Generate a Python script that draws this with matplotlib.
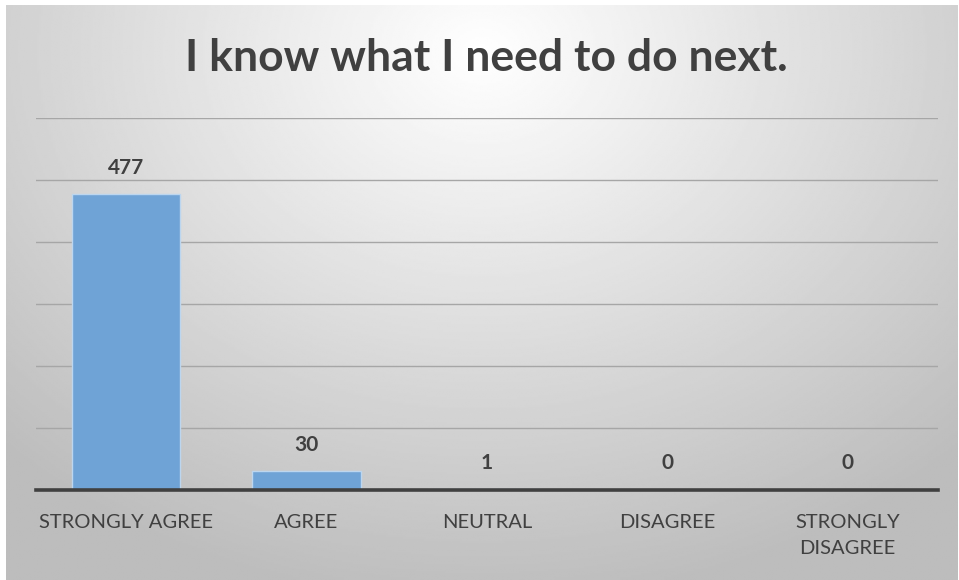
import numpy as np
import matplotlib
matplotlib.use("Agg")
import matplotlib.pyplot as plt

categories = ["STRONGLY AGREE", "AGREE", "NEUTRAL", "DISAGREE", "STRONGLY\nDISAGREE"]
counts = [477, 30, 1, 0, 0]
title = "I know what I need to do next."

plt.rcParams['font.family'] = ['Lato', 'DejaVu Sans']

W, H = 959, 580
fig = plt.figure(figsize=(W / 100, H / 100), dpi=100)

# background: radial gradient, light at the top centre
bg = fig.add_axes([6 / W, 0, 1 - 7 / W, 1 - 5 / H])
bg.set_axis_off()
gy, gx = np.mgrid[0:1:300j, 0:1:500j]
r = np.sqrt(((gx - 0.5) / 0.75) ** 2 + ((gy - 0.08) / 1.0) ** 2)
shade = np.clip(1.0 - 0.27 * r, 0.74, 1.0)
bg.imshow(shade, cmap="gray", vmin=0, vmax=1, aspect="auto",
          extent=[0, 1, 1, 0], interpolation="bilinear")

ax = fig.add_axes([36 / W, 1 - 490 / H, (937.5 - 36) / W, (490 - 118) / H])
ax.patch.set_alpha(0)
x = np.arange(len(categories))
ax.bar(x, counts, width=0.6, color="#6fa3d6", edgecolor="#bcd6ef", linewidth=1, zorder=3)
ax.set_xlim(-0.5, len(categories) - 0.5)
ax.set_ylim(0, 600)
ax.set_yticks(np.arange(0, 601, 100))
ax.yaxis.grid(True, color="#a6a6a6", linewidth=1)
ax.tick_params(axis="y", left=False, labelleft=False)
ax.tick_params(axis="x", bottom=False, pad=14)
ax.set_xticks(x)
ax.set_xticklabels(categories, fontsize=14.5, color="#404040", linespacing=1.62)
for s in ["top", "right", "left"]:
    ax.spines[s].set_visible(False)
ax.spines["bottom"].set_color("#404040")
ax.spines["bottom"].set_linewidth(2.6)
ax.spines["bottom"].set_zorder(4)

for xi, v in zip(x, counts):
    ax.annotate(str(v), (xi, v), xytext=(0, 12), textcoords="offset points",
                ha="center", va="bottom", fontsize=15, fontweight="bold", color="#404040")

fig.text(486 / W, 1 - 71 / H, title, ha="center", va="baseline", fontsize=32,
         fontweight="bold", color="#404040")

fig.savefig("out.png", dpi=100)
